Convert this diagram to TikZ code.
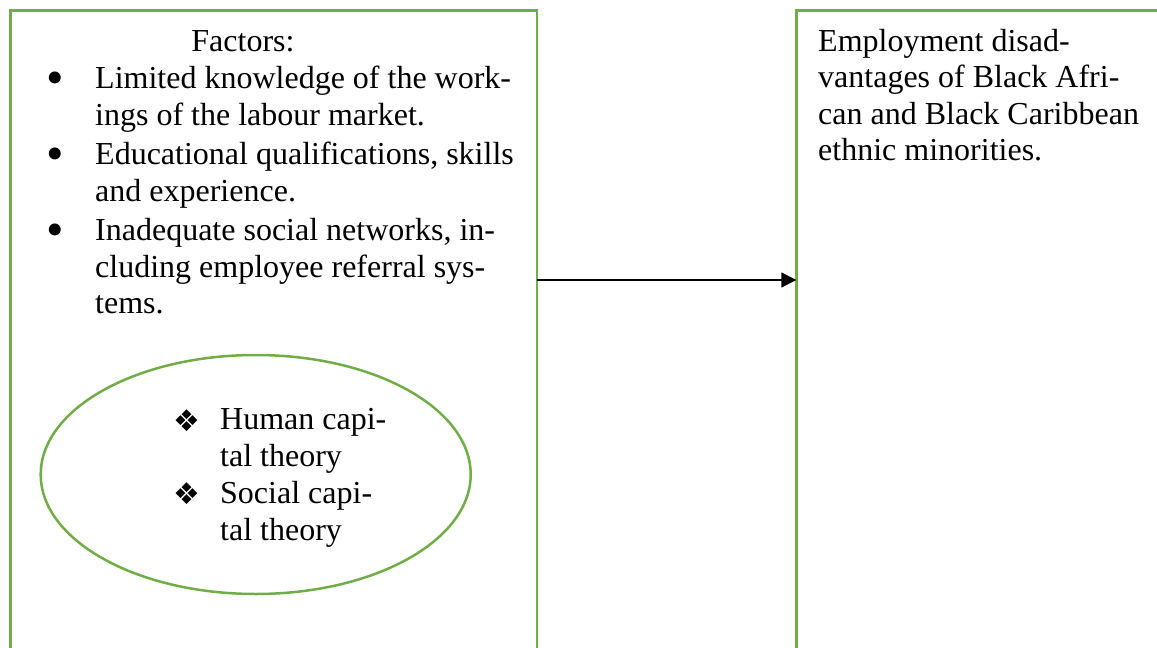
\documentclass[tikz,border=0pt]{standalone}
\usepackage{fontspec}
\setmainfont{Liberation Serif}
\newfontfamily\symfont{DejaVu Sans}
\usetikzlibrary{shapes.geometric,arrows.meta}
\definecolor{boxgreen}{HTML}{70AD47}
\begin{document}
\begin{tikzpicture}[x=1pt,y=-1pt,
  frame/.style={draw=boxgreen,line width=2.5pt,anchor=north west,inner sep=0pt,outer sep=0pt},
  txt/.style={anchor=base west,inner sep=0pt,font=\fontsize{32}{36.5}\selectfont},
  dot/.style={anchor=base,inner sep=0pt,font=\fontsize{50}{50}\selectfont},
  dia/.style={anchor=base,inner sep=0pt,font=\symfont\fontsize{30}{30}\selectfont},
  link/.style={line width=1.5pt,-{Triangle[length=15pt,width=15pt]}}]
\useasboundingbox (0,0) rectangle (1157,648);
\clip (0,0) rectangle (1157,648);

% the two frames run on past the lower (and right) edge
\node[frame,minimum width=526.5pt,minimum height=700pt] (factors) at (10.7,10.5) {};
\node[frame,minimum width=420pt,minimum height=700pt] (outcome) at (796.3,10.5) {};

% list of factors
\node[anchor=base,inner sep=0pt,font=\fontsize{32}{36.5}\selectfont] (head) at (243,51) {Factors:};
\node[dot] (b1) at (55,94.5) {•};
\node[txt] (l1a) at (95,88.5) {Limited knowledge of the work-};
\node[txt] (l1b) at (95,125) {ings of the labour market.};
\node[dot] (b2) at (55,170.5) {•};
\node[txt] (l2a) at (95,164.5) {Educational qualifications, skills};
\node[txt] (l2b) at (95,201) {and experience.};
\node[dot] (b3) at (55,246.5) {•};
\node[txt] (l3a) at (95,240.5) {Inadequate social networks, in-};
\node[txt] (l3b) at (95,277) {cluding employee referral sys-};
\node[txt] (l3c) at (95,313.5) {tems.};

% theories
\node[draw=boxgreen,line width=2.5pt,ellipse,minimum width=430pt,minimum height=239pt,inner sep=0pt] (theory) at (255.7,474.5) {};
\node[dia] (d1) at (187,431) {❖};
\node[txt] (t1a) at (220,429.5) {Human capi-};
\node[txt] (t1b) at (220,466.5) {tal theory};
\node[dia] (d2) at (187,504.5) {❖};
\node[txt] (t2a) at (220,503) {Social capi-};
\node[txt] (t2b) at (220,540) {tal theory};

% outcome
\node[txt] (o1) at (818,51) {Employment disad-};
\node[txt] (o2) at (818,87.5) {vantages of Black Afri-};
\node[txt] (o3) at (818,124) {can and Black Caribbean};
\node[txt] (o4) at (818,160.5) {ethnic minorities.};

\coordinate (ay) at (0,280);
\draw[link] (factors.east |- ay) -- (outcome.west |- ay);
\end{tikzpicture}
\end{document}
